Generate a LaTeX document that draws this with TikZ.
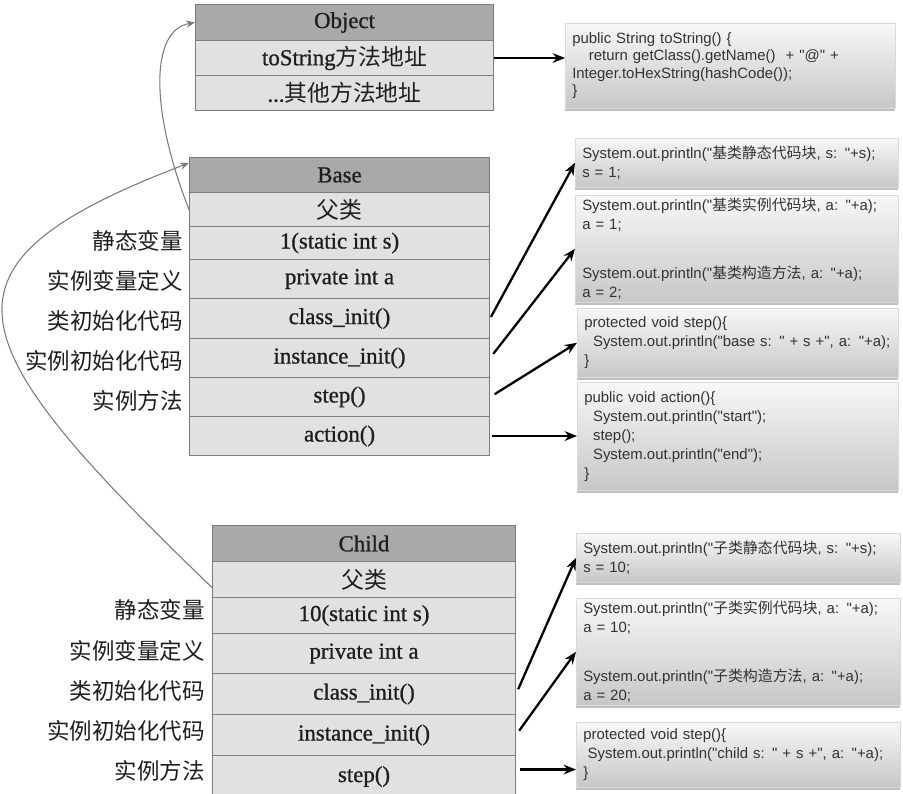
\documentclass[tikz,border=0pt]{standalone}
\usepackage{fontspec}
\setmainfont{Liberation Serif}
\newfontfamily\tabf[FakeBold=0.9]{Liberation Serif}
\newfontfamily\cjk{Noto Sans CJK SC}
\newfontfamily\codef{Liberation Sans}
\usetikzlibrary{arrows.meta,shadows,calc}
\definecolor{hdrc}{HTML}{A9A9A9}
\definecolor{cellc}{HTML}{E1E1E1}
\definecolor{bordc}{HTML}{7C7C7C}
\definecolor{txtc}{HTML}{1E1E1E}
\definecolor{codec}{HTML}{333333}
\definecolor{curvec}{HTML}{7A7A7A}
\newcommand{\U}{0.02cm}
\newcommand{\tbfont}{\tabf\fontsize{13}{15}\selectfont}
\newcommand{\lbfont}{\cjk\fontsize{12.8}{15}\selectfont}
\newcommand{\cdfont}{\codef\fontsize{8.5}{10.8}\selectfont}
\newcommand{\ind}{\hspace*{5pt}}
\begin{document}
\begin{tikzpicture}[x=0.02cm, y=-0.02cm,
  hdr/.style={draw=bordc, fill=hdrc, anchor=north west, inner sep=0pt, line width=0.6pt, font=\tbfont, text=txtc},
  cell/.style={draw=bordc, fill=cellc, anchor=north west, inner sep=0pt, line width=0.6pt, font=\tbfont, text=txtc},
  lbl/.style={anchor=east, inner sep=0pt, font=\lbfont, text=txtc},
  codebox/.style={anchor=north west, top color=black!3, bottom color=black!22, draw=black!15, line width=0.3pt,
     drop shadow={shadow xshift=0pt, shadow yshift=-1.6pt, opacity=0.35, fill=black!70},
     align=left, font=\cdfont, text=codec, inner xsep=7*\U, inner ysep=0pt},
  arr/.style={-{Stealth[length=7pt,width=5.5pt]}, line width=1.3pt, black},
  garr/.style={-{Stealth[length=5pt,width=4pt]}, line width=0.6pt, curvec}
]
\clip (0,0) rectangle (903,794);
\fill[white] (0,0) rectangle (903,794);

% ---------- Object ----------
\node[hdr,  minimum width=298*\U, minimum height=36*\U] (obj) at (195,4) {Object};
\node[cell, minimum width=298*\U, minimum height=35*\U] (ots) at (195,40) {toString{\cjk 方法地址}};
\node[cell, minimum width=298*\U, minimum height=35*\U] (oot) at (195,75) {...{\cjk 其他方法地址}};

\node[codebox, minimum width=330*\U, minimum height=85*\U, text width=316*\U, font=\codef\fontsize{8.5}{9.9}\selectfont] (ocode) at (565,23)
 {public String toString() \{\\
  \hspace*{9.5pt}return getClass().getName()~ + "@" +\\
  Integer.toHexString(hashCode());\\
  \}};

% ---------- Base ----------
\node[hdr,  minimum width=300*\U, minimum height=35*\U] (base) at (189,157) {Base};
\node[cell, minimum width=300*\U, minimum height=34*\U] (bpa) at (189,192) {{\cjk 父类}};
\node[cell, minimum width=300*\U, minimum height=33*\U] (bsv) at (189,226) {1(static int s)};
\node[cell, minimum width=300*\U, minimum height=39*\U] (bpv) at (189,259) {private int a};
\node[cell, minimum width=300*\U, minimum height=40*\U] (bci) at (189,298) {class\_init()};
\node[cell, minimum width=300*\U, minimum height=39*\U] (bii) at (189,338) {instance\_init()};
\node[cell, minimum width=300*\U, minimum height=39*\U] (bst) at (189,377) {step()};
\node[cell, minimum width=300*\U, minimum height=39*\U] (bac) at (189,416) {action()};

\node[lbl] (bl1) at (183,241) {静态变量};
\node[lbl] (bl2) at (183,281) {实例变量定义};
\node[lbl] (bl3) at (183,321) {类初始化代码};
\node[lbl] (bl4) at (183,361) {实例初始化代码};
\node[lbl] (bl5) at (183,401) {实例方法};

\node[codebox, minimum width=323*\U, minimum height=49*\U, text width=309*\U] (bc1) at (575,138)
 {System.out.println("{\cjk 基类静态代码块}, s: "+s);\\ s = 1;};
\node[codebox, minimum width=323*\U, minimum height=107*\U, text width=309*\U] (bc2) at (575,195)
 {System.out.println("{\cjk 基类实例代码块}, a: "+a);\\ a = 1;\\[17pt]
  System.out.println("{\cjk 基类构造方法}, a: "+a);\\ a = 2;};
\node[codebox, minimum width=321*\U, minimum height=69*\U, text width=307*\U] (bc3) at (577,308)
 {protected void step()\{\\
  \ind System.out.println("base s: " + s +", a: "+a);\\
  \}};
\node[codebox, minimum width=321*\U, minimum height=108*\U, text width=307*\U] (bc4) at (577,382)
 {public void action()\{\\
  \ind System.out.println("start");\\
  \ind step();\\
  \ind System.out.println("end");\\
  \}};

% ---------- Child ----------
\node[hdr,  minimum width=303*\U, minimum height=36*\U] (child) at (212,525) {Child};
\node[cell, minimum width=303*\U, minimum height=36*\U] (cpa) at (212,561) {{\cjk 父类}};
\node[cell, minimum width=303*\U, minimum height=36*\U] (csv) at (212,597) {10(static int s)};
\node[cell, minimum width=303*\U, minimum height=40*\U] (cpv) at (212,633) {private int a};
\node[cell, minimum width=303*\U, minimum height=41*\U] (cci) at (212,673) {class\_init()};
\node[cell, minimum width=303*\U, minimum height=41*\U] (cii) at (212,714) {instance\_init()};
\node[cell, minimum width=303*\U, minimum height=42*\U] (cst) at (212,755) {step()};

\node[lbl] (cl1) at (205,610) {静态变量};
\node[lbl] (cl2) at (205,651) {实例变量定义};
\node[lbl] (cl3) at (205,691) {类初始化代码};
\node[lbl] (cl4) at (205,731) {实例初始化代码};
\node[lbl] (cl5) at (205,771) {实例方法};

\node[codebox, minimum width=324*\U, minimum height=49*\U, text width=310*\U] (cc1) at (576,533)
 {System.out.println("{\cjk 子类静态代码块}, s: "+s);\\ s = 10;};
\node[codebox, minimum width=324*\U, minimum height=107*\U, text width=310*\U] (cc2) at (576,598)
 {System.out.println("{\cjk 子类实例代码块}, a: "+a);\\ a = 10;\\[17pt]
  System.out.println("{\cjk 子类构造方法}, a: "+a);\\ a = 20;};
\node[codebox, minimum width=324*\U, minimum height=65*\U, text width=310*\U] (cc3) at (576,722)
 {protected void step()\{\\
  \hspace*{2.5pt}System.out.println("child s: " + s +", a: "+a);\\
  \}};

% ---------- connectors ----------
\draw[arr] (ots.east) -- (ots.east -| ocode.west);
\draw[arr, shorten <=1pt] (bci.east) -- (bc1.west);
\draw[arr, shorten <=3pt] (bii.east) -- (bc2.west);
\draw[arr, shorten <=3pt] (bst.east) -- (bc3.west);
\draw[arr, shorten <=1pt] (bac.east) -- (bac.east -| bc4.west);
\draw[arr, shorten <=3pt] (cci.east) -- (cc1.west);
\draw[arr, shorten <=3pt] (cii.east) -- (cc2.west);
\draw[arr, shorten <=2pt] ([yshift=7*\U]cst.east) -- ([yshift=7*\U]cst.east -| cc3.west);

\draw[garr] (bpa.west) .. controls (150,110) and (150,30) .. (obj.west);
\draw[garr] ([yshift=-8*\U]cpa.west) .. controls (-46,339) and (-79,265) .. ([yshift=12*\U]base.west);
\end{tikzpicture}
\end{document}
